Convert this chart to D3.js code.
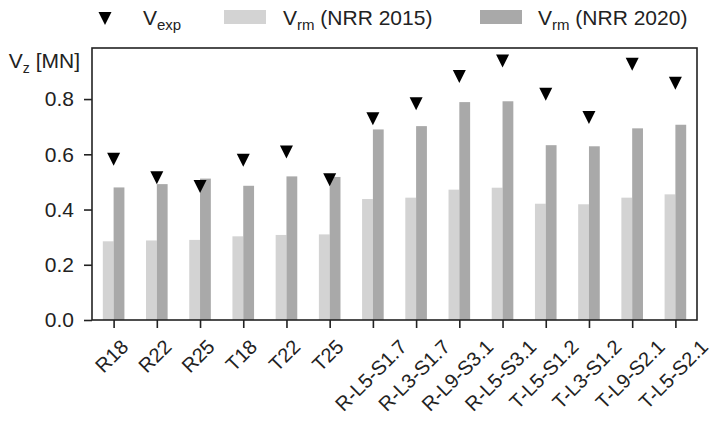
<!DOCTYPE html>
<html>
<head>
<meta charset="utf-8">
<script src="https://cdn.jsdelivr.net/npm/d3@7"></script>
<style>
  body { margin: 0; background: #fff; }
  svg { display: block; font-family: "Liberation Sans", Arial, sans-serif; }
</style>
</head>
<body>
<main></main>
<script>
const specimens = ['R18', 'R22', 'R25', 'T18', 'T22', 'T25',
  'R-L5-S1.7', 'R-L3-S1.7', 'R-L9-S3.1', 'R-L5-S3.1',
  'T-L5-S1.2', 'T-L3-S1.2', 'T-L9-S2.1', 'T-L5-S2.1'];

const vExp = [0.582, 0.515, 0.483, 0.578, 0.608, 0.508,
  0.729, 0.783, 0.882, 0.938, 0.817, 0.733, 0.926, 0.857];

const vRm2015 = [0.285, 0.288, 0.290, 0.303, 0.308, 0.310,
  0.438, 0.443, 0.472, 0.479, 0.421, 0.419, 0.443, 0.455];

const vRm2020 = [0.480, 0.492, 0.512, 0.486, 0.520, 0.518,
  0.690, 0.702, 0.789, 0.792, 0.633, 0.629, 0.694, 0.707];

const yTicks = [0, 0.2, 0.4, 0.6, 0.8];

function drawChart() {
  const width = 712;
  const height = 422;
  const margin = { top: 48, right: 15, bottom: 102, left: 92 };
  const ink = '#222';
  const fontSize = 20;
  const legendSize = 21;
  const barWidth = 0.25;
  const light = '#d3d3d3';
  const dark = '#a9a9a9';

  const x = d3.scaleLinear()
    .domain([-0.5, specimens.length - 0.5])
    .range([margin.left, width - margin.right]);

  const y = d3.scaleLinear()
    .domain([0, d3.max(vExp) * 1.05])
    .range([height - margin.bottom, margin.top]);

  const svg = d3.select('main')
    .append('svg')
    .attr('width', width)
    .attr('height', height)
    .attr('viewBox', [0, 0, width, height]);

  // bars
  const bars = svg.append('g');
  bars.selectAll('rect.b2015')
    .data(vRm2015)
    .join('rect')
    .attr('class', 'b2015')
    .attr('x', (d, i) => x(i - barWidth))
    .attr('y', d => y(d))
    .attr('width', x(barWidth) - x(0))
    .attr('height', d => y(0) - y(d))
    .attr('fill', light);

  bars.selectAll('rect.b2020')
    .data(vRm2020)
    .join('rect')
    .attr('class', 'b2020')
    .attr('x', (d, i) => x(i))
    .attr('y', d => y(d))
    .attr('width', x(barWidth) - x(0))
    .attr('height', d => y(0) - y(d))
    .attr('fill', dark);

  // triangle-down marker, bbox centred on the value
  const tri = s => `M${-s / 2},${-s / 2}L${s / 2},${-s / 2}L0,${s / 2}Z`;

  svg.append('g')
    .selectAll('path')
    .data(vExp)
    .join('path')
    .attr('d', tri(13))
    .attr('transform', (d, i) => `translate(${x(i)},${y(d)})`)
    .attr('fill', '#000');

  // y axis
  const yAxis = svg.append('g')
    .attr('transform', `translate(${margin.left},0)`)
    .call(d3.axisLeft(y).tickValues(yTicks).tickFormat(d3.format('.1f'))
      .tickSize(8).tickPadding(10));
  yAxis.select('.domain').remove();
  yAxis.selectAll('line').attr('stroke', ink).attr('stroke-width', 1.6);
  yAxis.selectAll('text')
    .attr('fill', ink)
    .attr('font-size', legendSize)
    .attr('font-family', '"Liberation Sans", Arial, sans-serif');

  // x axis
  const xAxis = svg.append('g')
    .attr('transform', `translate(0,${y(0)})`)
    .call(d3.axisBottom(x).tickValues(d3.range(specimens.length))
      .tickSize(8).tickFormat(''));
  xAxis.select('.domain').remove();
  xAxis.selectAll('line').attr('stroke', ink).attr('stroke-width', 1.6);

  const labelTop = y(0) + 8 + 7;
  const lineH = fontSize * 1.15;
  const xLabels = svg.append('g')
    .selectAll('text')
    .data(specimens)
    .join('text')
    .attr('font-size', fontSize)
    .attr('fill', ink)
    .attr('text-anchor', 'middle')
    .attr('dominant-baseline', 'central')
    .text(d => d);
  xLabels.each(function(d, i) {
    const len = this.getComputedTextLength();
    const half = (len + lineH) * Math.SQRT1_2 / 2;
    d3.select(this).attr('transform',
      `translate(${x(i) - 2},${labelTop + half}) rotate(-45)`);
  });

  // frame
  svg.append('rect')
    .attr('x', margin.left)
    .attr('y', margin.top)
    .attr('width', width - margin.left - margin.right)
    .attr('height', height - margin.top - margin.bottom)
    .attr('fill', 'none')
    .attr('stroke', ink)
    .attr('stroke-width', 1.6);

  // y label
  const yLabel = svg.append('text')
    .attr('x', 80)
    .attr('y', 68)
    .attr('text-anchor', 'end')
    .attr('font-size', legendSize)
    .attr('fill', ink);
  yLabel.append('tspan').text('V');
  yLabel.append('tspan').attr('font-size', 14).attr('dy', 5).text('z');
  yLabel.append('tspan').attr('dy', -5).text(' [MN]');

  // legend
  const legend = svg.append('g');
  const baseline = 25;
  const handleY = 17;

  legend.append('path')
    .attr('d', tri(13))
    .attr('transform', `translate(105,${handleY + 1.5})`)
    .attr('fill', '#000');

  const items = [
    { text: 'V', sub: 'exp', rest: '', x: 143 },
    { text: 'V', sub: 'rm', rest: ' (NRR 2015)', x: 283, fill: light, px: 224 },
    { text: 'V', sub: 'rm', rest: ' (NRR 2020)', x: 538, fill: dark, px: 480 },
  ];

  items.forEach(item => {
    if (item.fill) {
      legend.append('rect')
        .attr('x', item.px)
        .attr('y', handleY - 7)
        .attr('width', 42)
        .attr('height', 14)
        .attr('fill', item.fill);
    }
    const t = legend.append('text')
      .attr('x', item.x)
      .attr('y', baseline)
      .attr('font-size', legendSize)
      .attr('fill', ink);
    t.append('tspan').text(item.text);
    t.append('tspan').attr('font-size', 15).attr('dy', 5).text(item.sub);
    if (item.rest) t.append('tspan').attr('dy', -5).text(item.rest);
  });
}

drawChart();
</script>
</body>
</html>
